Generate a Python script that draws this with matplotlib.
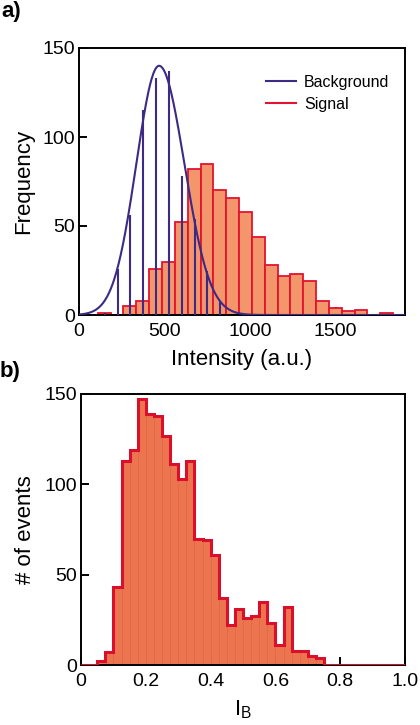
import numpy as np
import matplotlib
matplotlib.use("Agg")
import matplotlib.pyplot as plt

plt.rcParams['font.family'] = ['Liberation Sans', 'DejaVu Sans']

# ---------------- data: panel a ----------------
sig_bin_start = 110
sig_bin_width = 75
signal_counts = [1, 0, 5, 8, 26, 30, 52, 82, 85, 70, 66, 58, 44, 28, 22, 23,
                 19, 8, 4, 2, 3, 0, 1, 0]
background_counts = [1, 26, 56, 115, 133, 137, 78, 54, 25, 8]
# background fit (peak, centre, left/right widths)
fit_amp = 140
fit_mu = 468
fit_sig_left = 133
fit_sig_right = 148

# ---------------- data: panel b ----------------
ib_bin_width = 0.025
ib_counts = [0, 0, 2, 7, 43, 113, 119, 147, 139, 138, 127, 111, 103, 113, 70,
             69, 61, 37, 22, 31, 26, 27, 35, 23, 11, 32, 8, 8, 5, 4,
             0, 0, 0, 0, 0, 0, 0, 0, 0, 0]

c_sig_fill = '#F4966C'
c_sig_edge = '#E2142F'
c_bg = '#3C2A84'
c_b_fill = '#EC744F'
c_b_edge = '#D9102B'

fig = plt.figure(figsize=(4.2, 7.25), dpi=100)

ax1 = fig.add_axes([79/420, 1-315/725, (405-79)/420, (315-48)/725])
ax2 = fig.add_axes([81/420, 1-665/725, (405-81)/420, (665-394)/725])

for ax in (ax1, ax2):
    for s in ax.spines.values():
        s.set_linewidth(1.4)
    ax.tick_params(direction='in', length=6, width=1.4, labelsize=14,
                   top=False, right=False)
    ax.tick_params(axis='x', pad=6)
    ax.tick_params(axis='y', pad=3)

# panel a
sig_edges = sig_bin_start + sig_bin_width*np.arange(len(signal_counts)+1)
sig_left = sig_edges[:-1]
ax1.bar(sig_left, signal_counts, width=sig_bin_width, align='edge',
        color=c_sig_fill, edgecolor=c_sig_edge, linewidth=1.3, zorder=2,
        label='_nolegend_')
bg_centers = sig_left[:len(background_counts)] + sig_bin_width/2 + 2.5
ax1.vlines(bg_centers, 0, background_counts, color=c_bg, linewidth=1.5, zorder=3)

xx = np.linspace(0, 1900, 600)
sig = np.where(xx < fit_mu, fit_sig_left, fit_sig_right)
yy = fit_amp*np.exp(-0.5*((xx-fit_mu)/sig)**2)
ax1.plot(xx, yy, color=c_bg, linewidth=1.5, zorder=4, label='Background')
ax1.plot([], [], color=c_sig_edge, linewidth=1.5, label='Signal')

ax1.set_xlim(0, 1905)
ax1.set_ylim(0, 150)
ax1.set_xticks([0, 500, 1000, 1500])
ax1.set_yticks([0, 50, 100, 150])
ax1.set_xlabel('Intensity (a.u.)', fontsize=16, labelpad=6)
ax1.set_ylabel('Frequency', fontsize=16, labelpad=6)
leg = ax1.legend(loc='upper left', bbox_to_anchor=(0.575, 0.90), frameon=False,
                 fontsize=11.5, handlelength=1.85, handletextpad=0.5,
                 labelspacing=0.45, borderpad=0, borderaxespad=0)

# panel b
ib_edges = ib_bin_width*np.arange(len(ib_counts)+1)
ax2.bar(ib_edges[:-1], ib_counts, width=ib_bin_width, align='edge',
        color=c_b_fill, edgecolor='#E06A48', linewidth=0.6, zorder=2)
ax2.stairs(ib_counts, ib_edges, color=c_b_edge, linewidth=2.2, zorder=3)
ax2.set_xlim(0, 1.0)
ax2.set_ylim(0, 150)
ax2.set_xticks([0, 0.2, 0.4, 0.6, 0.8, 1.0])
ax2.set_xticklabels(['0', '0.2', '0.4', '0.6', '0.8', '1.0'])
ax2.set_yticks([0, 50, 100, 150])
ax2.set_xlabel('I$_\\mathregular{B}$', fontsize=16, labelpad=6)
ax2.set_ylabel('# of events', fontsize=16, labelpad=6)

fig.text(0.004, 0.999, 'a)', fontsize=16, fontweight='bold', va='top', ha='left')
fig.text(0.0, 1-361/725, 'b)', fontsize=16, fontweight='bold', va='top', ha='left')

fig.savefig('out.png', dpi=100)
